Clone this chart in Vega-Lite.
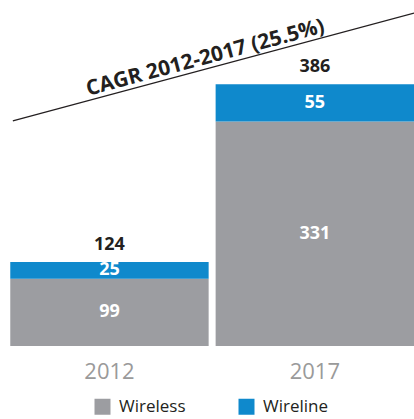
{
  "$schema": "https://vega.github.io/schema/vega-lite/v6.json",
  "width": 414,
  "height": 346,
  "padding": {"left": 0, "top": 0, "right": 0, "bottom": 73},
  "autosize": {"type": "none"},
  "config": {
    "view": {"stroke": null},
    "font": "Open Sans"
  },
  "resolve": {"scale": {"x": "independent"}},
  "layer": [
    {
      "data": {
        "values": [
          {"year": "2012", "series": "Wireless", "value": 99},
          {"year": "2012", "series": "Wireline", "value": 25},
          {"year": "2017", "series": "Wireless", "value": 331},
          {"year": "2017", "series": "Wireline", "value": 55}
        ]
      },
      "encoding": {
        "x": {
          "field": "year",
          "type": "nominal",
          "scale": {"paddingInner": 0.034, "paddingOuter": 0.025, "align": 1},
          "axis": {
            "title": null,
            "labelAngle": 0,
            "domain": false,
            "ticks": false,
            "labelFontSize": 22,
            "labelColor": "#9a9a9a",
            "labelPadding": 15,
            "labelFont": "Open Sans"
          }
        }
      },
      "layer": [
        {
          "mark": {"type": "bar"},
          "encoding": {
            "y": {
              "field": "value",
              "type": "quantitative",
              "stack": "zero",
              "scale": {"domain": [0, 510.3], "nice": false, "zero": false},
              "axis": null
            },
            "order": {"field": "series", "type": "nominal", "sort": "ascending"},
            "color": {
              "field": "series",
              "type": "nominal",
              "scale": {"domain": ["Wireless", "Wireline"], "range": ["#9c9da1", "#0f89cc"]},
              "legend": {
                "title": null,
                "orient": "none",
                "legendX": 94,
                "legendY": 398,
                "direction": "horizontal",
                "symbolType": "square",
                "symbolSize": 256,
                "symbolStrokeWidth": 0,
                "symbolOpacity": 1,
                "labelFontSize": 17,
                "labelColor": "#231f20",
                "labelOffset": 8,
                "columnPadding": 52,
                "labelFont": "Open Sans"
              }
            }
          }
        },
        {
          "mark": {"type": "text", "color": "white", "fontWeight": "bold", "fontSize": 18, "baseline": "middle"},
          "encoding": {
            "y": {"field": "value", "type": "quantitative", "stack": "zero", "bandPosition": 0.5},
            "detail": {"field": "series"},
            "order": {"field": "series", "type": "nominal", "sort": "ascending"},
            "text": {"field": "value", "type": "quantitative"}
          }
        },
        {
          "transform": [
            {"aggregate": [{"op": "sum", "field": "value", "as": "total"}], "groupby": ["year"]}
          ],
          "mark": {"type": "text", "color": "#231f20", "fontWeight": "bold", "fontSize": 18, "baseline": "alphabetic", "dy": -12},
          "encoding": {
            "y": {"field": "total", "type": "quantitative"},
            "text": {"field": "total", "type": "quantitative"}
          }
        }
      ]
    },
    {
      "layer": [
        {
          "data": {"values": [{"p": 0.031, "v": 332}, {"p": 1, "v": 491}]},
          "mark": {"type": "line", "color": "#231f20", "strokeWidth": 1.2},
          "encoding": {
            "x": {"field": "p", "type": "quantitative", "scale": {"domain": [0, 1], "nice": false, "zero": false}, "axis": null},
            "y": {"field": "v", "type": "quantitative"}
          }
        },
        {
          "data": {"values": [{"p": 0.5, "v": 416, "label": "CAGR 2012-2017 (25.5%)"}]},
          "mark": {"type": "text", "color": "#231f20", "fontWeight": "bold", "fontSize": 21, "angle": -15, "align": "center", "baseline": "alphabetic"},
          "encoding": {
            "x": {"field": "p", "type": "quantitative", "axis": null},
            "y": {"field": "v", "type": "quantitative"},
            "text": {"field": "label"}
          }
        }
      ]
    }
  ]
}
